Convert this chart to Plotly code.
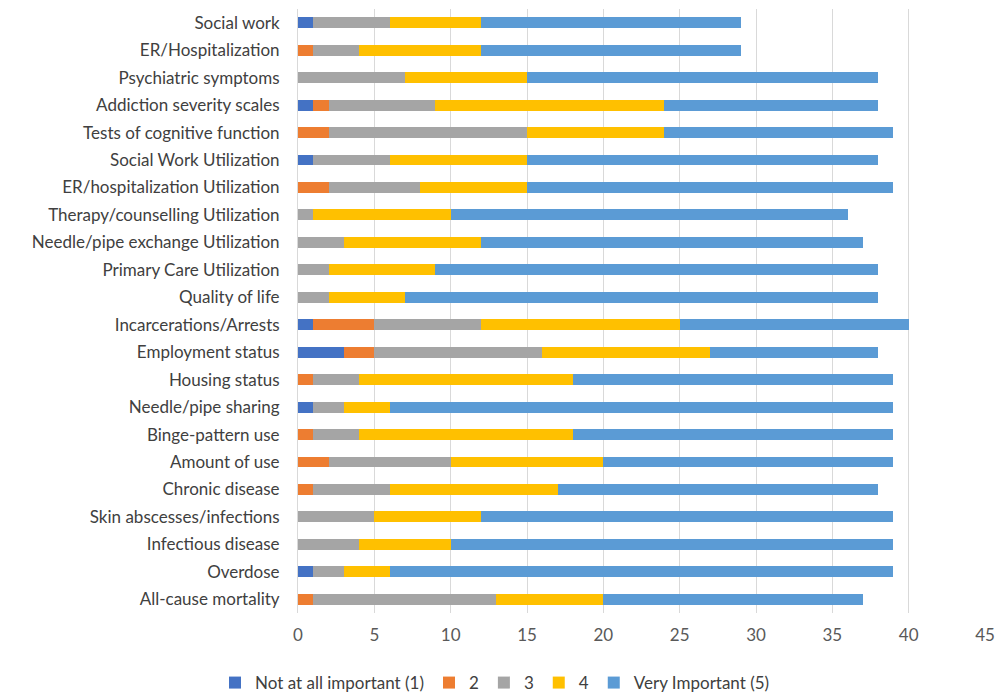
import plotly.graph_objects as go

categories = [
    "Social work", "ER/Hospitalization", "Psychiatric symptoms", "Addiction severity scales",
    "Tests of cognitive function", "Social Work Utilization", "ER/hospitalization Utilization",
    "Therapy/counselling Utilization", "Needle/pipe exchange Utilization", "Primary Care Utilization",
    "Quality of life", "Incarcerations/Arrests", "Employment status", "Housing status",
    "Needle/pipe sharing", "Binge-pattern use", "Amount of use", "Chronic disease",
    "Skin abscesses/infections", "Infectious disease", "Overdose", "All-cause mortality",
]
not_at_all = [1, 0, 0, 1, 0, 1, 0, 0, 0, 0, 0, 1, 3, 0, 1, 0, 0, 0, 0, 0, 1, 0]
two =        [0, 1, 0, 1, 2, 0, 2, 0, 0, 0, 0, 4, 2, 1, 0, 1, 2, 1, 0, 0, 0, 1]
three =      [5, 3, 7, 7, 13, 5, 6, 1, 3, 2, 2, 7, 11, 3, 2, 3, 8, 5, 5, 4, 2, 12]
four =       [6, 8, 8, 15, 9, 9, 7, 9, 9, 7, 5, 13, 11, 14, 3, 14, 10, 11, 7, 6, 3, 7]
very =       [17, 17, 23, 14, 15, 23, 24, 26, 25, 29, 31, 15, 11, 21, 33, 21, 19, 21, 27, 29, 33, 17]

series_names = ["Not at all important (1)", "2", "3", "4", "Very Important (5)"]
colors = ["#4472C4", "#ED7D31", "#A5A5A5", "#FFC000", "#5B9BD5"]
values = [not_at_all, two, three, four, very]

fig = go.Figure()
for name, col, vals in zip(series_names, colors, values):
    fig.add_trace(go.Bar(
        y=categories, x=vals, name=name, orientation="h",
        marker=dict(color=col, line=dict(width=0)),
    ))

fig.update_layout(
    barmode="stack",
    bargap=0.6,
    width=998, height=686,
    margin=dict(l=290, r=21, t=1, b=81, autoexpand=False),
    paper_bgcolor="white", plot_bgcolor="white",
    font=dict(family="Lato, Open Sans, sans-serif", size=17, color="#404040"),
    showlegend=True,
    legend=dict(
        orientation="h", xref="container", yref="container",
        x=0.488, xanchor="center", y=0.016, yanchor="middle",
        font=dict(size=17, color="#404040"), traceorder="normal",
        itemwidth=30, tracegroupgap=0,
    ),
    xaxis=dict(
        range=[0, 45], dtick=5, tick0=0, showgrid=True, gridcolor="#D9D9D9", gridwidth=1,
        zeroline=False, showline=False, ticks="", ticklen=0, ticklabelstandoff=10,
        tickfont=dict(size=17, color="#595959"), automargin=False,
    ),
    yaxis=dict(
        categoryorder="array", categoryarray=categories[::-1],
        showline=True, linecolor="#D9D9D9", linewidth=1, ticks="", ticklabelstandoff=14,
        tickfont=dict(size=17, color="#404040"), showgrid=False, automargin=False,
    ),
)

fig.write_html("out.html")
